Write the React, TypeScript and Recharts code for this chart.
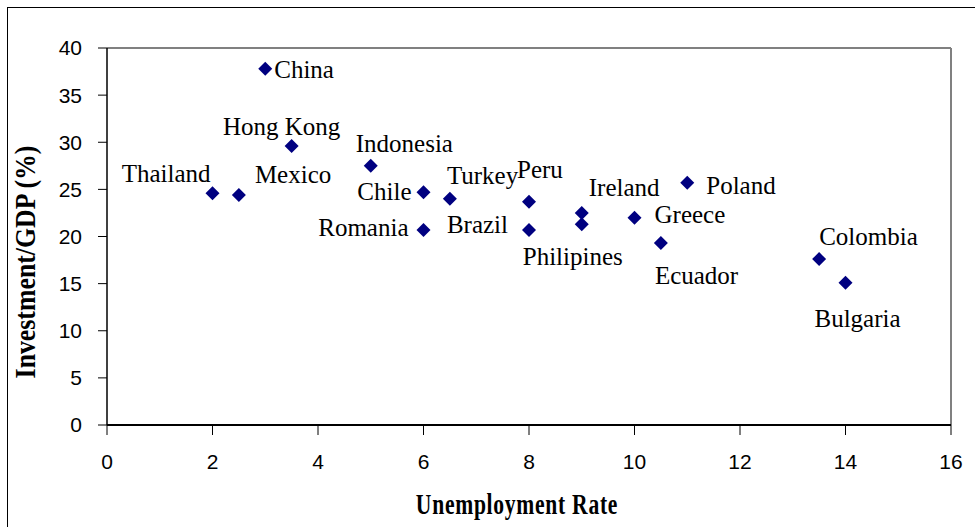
import React from 'react';
import {
  ScatterChart,
  Scatter,
  XAxis,
  YAxis,
  ReferenceLine,
  Label,
  LabelList,
} from 'recharts';

const COUNTRIES = [
  'China', 'Hong Kong', 'Thailand', 'Mexico', 'Indonesia', 'Chile', 'Romania', 'Turkey',
  'Peru', 'Brazil', 'Ireland', 'Philipines', 'Greece', 'Ecuador', 'Poland', 'Colombia', 'Bulgaria',
];
const UNEMPLOYMENT = [3, 3.5, 2, 2.5, 5, 6, 6, 6.5, 8, 8, 9, 9, 10, 10.5, 11, 13.5, 14];
const INVESTMENT = [37.8, 29.6, 24.6, 24.4, 27.5, 24.7, 20.7, 24.0, 23.7, 20.7, 22.5, 21.3, 22.0, 19.3, 25.7, 17.6, 15.1];
const X_TICKS = [0, 2, 4, 6, 8, 10, 12, 14, 16];
const Y_TICKS = [0, 5, 10, 15, 20, 25, 30, 35, 40];

// where each country's name sits relative to its marker
const LABEL_PLACE: Record<string, { anchor: 'start' | 'middle' | 'end'; dx: number; dy: number }> = {
  China: { anchor: 'start', dx: 9, dy: 1 },
  'Hong Kong': { anchor: 'middle', dx: -10, dy: -19 },
  Thailand: { anchor: 'end', dx: -2, dy: -19 },
  Mexico: { anchor: 'start', dx: 16, dy: -20 },
  Indonesia: { anchor: 'start', dx: -15, dy: -22 },
  Chile: { anchor: 'end', dx: -12, dy: 0 },
  Romania: { anchor: 'end', dx: -15, dy: -2 },
  Turkey: { anchor: 'start', dx: -3, dy: -23 },
  Peru: { anchor: 'start', dx: -12, dy: -32 },
  Brazil: { anchor: 'end', dx: -21, dy: -5 },
  Ireland: { anchor: 'start', dx: 7, dy: -25 },
  Philipines: { anchor: 'middle', dx: -9, dy: 33 },
  Greece: { anchor: 'start', dx: 20, dy: -3 },
  Ecuador: { anchor: 'start', dx: -6, dy: 33 },
  Poland: { anchor: 'start', dx: 19, dy: 3 },
  Colombia: { anchor: 'start', dx: 0, dy: -22 },
  Bulgaria: { anchor: 'middle', dx: 12, dy: 36 },
};

const data = COUNTRIES.map((name, i) => ({
  name,
  x: UNEMPLOYMENT[i],
  y: INVESTMENT[i],
}));

const SERIF = 'Liberation Serif';
const tickStyle = { fill: '#000', fontSize: 21, fontFamily: 'Liberation Sans' };

function Diamond(props: any) {
  const { cx, cy } = props;
  const r = 7;
  return (
    <polygon
      points={`${cx},${cy - r} ${cx + r},${cy} ${cx},${cy + r} ${cx - r},${cy}`}
      fill="#000080"
    />
  );
}

function CountryName(props: any) {
  const { x, y, width, height, value } = props;
  const cx = x + width / 2;
  const cy = y + height / 2;
  const place = LABEL_PLACE[value];
  return (
    <text
      x={cx + place.dx}
      y={cy + place.dy + 8}
      textAnchor={place.anchor}
      fontFamily={SERIF}
      fontSize={25}
      fill="#000"
    >
      {value}
    </text>
  );
}

function XTitle(props: any) {
  const { viewBox } = props;
  const cx = viewBox.x + viewBox.width / 2 - 12;
  return (
    <text
      transform={`translate(${cx}, 514) scale(0.72, 1)`}
      textAnchor="middle"
      fontFamily={SERIF}
      fontWeight="bold"
      fontSize={30}
      letterSpacing={1}
      fill="#000"
    >
      Unemployment Rate
    </text>
  );
}

function YTitle() {
  return (
    <text
      transform="translate(35, 262) rotate(-90) scale(0.86, 1)"
      textAnchor="middle"
      fontFamily={SERIF}
      fontWeight="bold"
      fontSize={30}
      fill="#000"
    >
      Investment/GDP (%)
    </text>
  );
}

export default function App() {
  return (
    <div style={{ position: 'absolute', left: 0, top: 0, width: 975, height: 527, background: '#fff' }}>
      <div
        style={{
          position: 'absolute',
          left: 7,
          top: 7,
          width: 968,
          height: 520,
          borderLeft: '1.5px solid #000',
          borderTop: '1.5px solid #000',
          boxSizing: 'border-box',
          pointerEvents: 'none',
        }}
      />
      <ScatterChart width={975} height={527} margin={{ top: 48, right: 24, bottom: 40, left: 47 }}>
        <XAxis
          type="number"
          dataKey="x"
          domain={[0, 16]}
          ticks={X_TICKS}
          interval={0}
          tickSize={10}
          tickMargin={19}
          height={62}
          axisLine={{ stroke: '#000', strokeWidth: 2 }}
          tickLine={{ stroke: '#000' }}
          tick={tickStyle}
        >
          <Label content={<XTitle />} />
        </XAxis>
        <YAxis
          type="number"
          dataKey="y"
          domain={[0, 40]}
          ticks={Y_TICKS}
          interval={0}
          width={60}
          tickSize={9}
          tickMargin={16}
          axisLine={{ stroke: '#000', strokeWidth: 1.5 }}
          tickLine={{ stroke: '#000' }}
          tick={tickStyle}
        >
          <Label content={<YTitle />} />
        </YAxis>
        <ReferenceLine y={40} stroke="#808080" strokeWidth={2} />
        <ReferenceLine x={16} stroke="#808080" strokeWidth={2} />
        <Scatter data={data} fill="#000080" shape={<Diamond />} isAnimationActive={false}>
          <LabelList dataKey="name" content={<CountryName />} />
        </Scatter>
      </ScatterChart>
    </div>
  );
}
